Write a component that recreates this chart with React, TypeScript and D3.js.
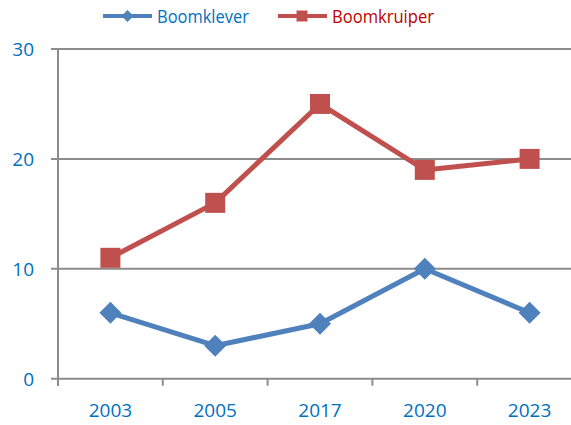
import React from "react";
import * as d3 from "d3";

const categories = ["2003", "2005", "2017", "2020", "2023"];
const boomklever = [6, 3, 5, 10, 6];
const boomkruiper = [11, 16, 25, 19, 20];
const yTicks = [0, 10, 20, 30];

const W = 571;
const H = 425;
const left = 58;
const bandW = 104.8;
const top = 49;
const bottom = 378.7;
const font = "'Open Sans', sans-serif";
const labelColor = "#0070C0";
const blue = "#4F81BD";
const red = "#C0504D";

export default function App() {
  const x = d3
    .scaleBand<string>()
    .domain(categories)
    .range([left, left + bandW * categories.length]);
  const y = d3.scaleLinear().domain([0, 30]).range([bottom, top]);
  const cx = (c: string) => (x(c) as number) + x.bandwidth() / 2;
  const line = d3
    .line<number>()
    .x((_, i) => cx(categories[i]))
    .y((d) => y(d));
  const boundaries = categories.map((c) => x(c) as number).concat([left + bandW * categories.length]);

  const diamond = (px: number, py: number, r: number) =>
    `M${px},${py - r}L${px + r},${py}L${px},${py + r}L${px - r},${py}Z`;

  return (
    <div style={{ position: "fixed", left: 0, top: 0 }}>
      <svg width={W} height={H} style={{ display: "block", background: "#fff" }}>
        {/* gridlines */}
        {yTicks.map((t) => (
          <line key={"g" + t} x1={51} x2={W} y1={y(t)} y2={y(t)} stroke="#8c8c8c" strokeWidth={2} />
        ))}
        {/* y axis */}
        <line x1={left} x2={left} y1={top} y2={bottom + 7} stroke="#8c8c8c" strokeWidth={2} />
        {boundaries.map((b, i) => (
          <line key={"xt" + i} x1={b} x2={b} y1={bottom} y2={bottom + 7} stroke="#8c8c8c" strokeWidth={2} />
        ))}
        {yTicks.map((t) => (
          <text key={"yl" + t} x={34} y={y(t)} dy="0.36em" textAnchor="end" fontFamily={font} fontSize={19} fill={labelColor}>
            {t}
          </text>
        ))}
        {categories.map((c) => (
          <text key={"xl" + c} x={cx(c)} y={410} dy="0.36em" textAnchor="middle" fontFamily={font} fontSize={19} fill={labelColor}>
            {c}
          </text>
        ))}
        {/* series */}
        <path d={line(boomkruiper) || ""} fill="none" stroke={red} strokeWidth={5} strokeLinejoin="round" />
        {boomkruiper.map((v, i) => (
          <rect key={"r" + i} x={cx(categories[i]) - 10} y={y(v) - 10} width={20} height={20} fill={red} />
        ))}
        <path d={line(boomklever) || ""} fill="none" stroke={blue} strokeWidth={5} strokeLinejoin="round" />
        {boomklever.map((v, i) => (
          <path key={"d" + i} d={diamond(cx(categories[i]), y(v), 11)} fill={blue} />
        ))}
        {/* legend */}
        <line x1={103} x2={152} y1={16} y2={16} stroke={blue} strokeWidth={4} />
        <path d={diamond(127.5, 16, 6)} fill={blue} />
        <text x={157} y={16} dy="0.36em" fontFamily={font} fontSize={19} fill={labelColor} textLength={92} lengthAdjust="spacingAndGlyphs">
          Boomklever
        </text>
        <line x1={278} x2={327} y1={16} y2={16} stroke={red} strokeWidth={4} />
        <rect x={296.5} y={10.5} width={11} height={11} fill={red} />
        <text x={332} y={16} dy="0.36em" fontFamily={font} fontSize={19} fill="#C00000" textLength={102} lengthAdjust="spacingAndGlyphs">
          Boomkruiper
        </text>
      </svg>
    </div>
  );
}
